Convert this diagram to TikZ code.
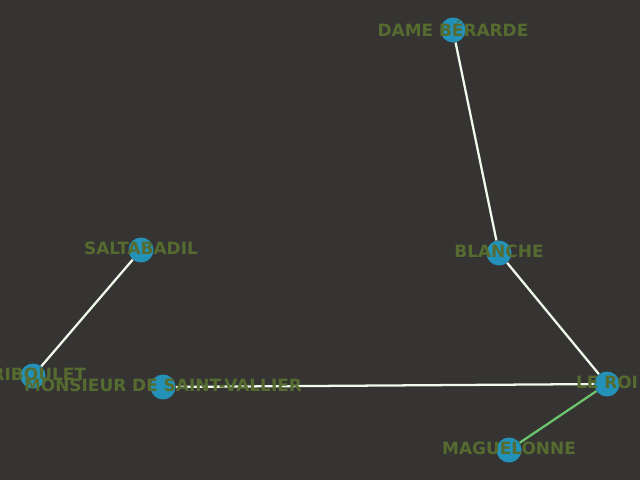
\documentclass[tikz,border=0pt]{standalone}
\usepackage{fontspec}
\setmainfont{DejaVu Sans}
\definecolor{bg}{HTML}{353433}
\definecolor{nodefill}{HTML}{2492B8}
\definecolor{lbl}{HTML}{556B2F}
\definecolor{edgew}{HTML}{F0FAEA}
\definecolor{edgeg}{HTML}{6CC46C}
\begin{document}
\begin{tikzpicture}[x=0.75pt,y=0.75pt,
  vert/.style={circle,fill=nodefill,minimum size=25*0.75pt,inner sep=0pt},
  lab/.style={text=lbl,font=\fontsize{12.7pt}{14pt}\selectfont\bfseries,inner sep=0pt,yshift=1.2pt},
  wedge/.style={draw=edgew,line width=1.7pt},
  gedge/.style={draw=edgeg,line width=1.7pt}]
\fill[bg] (0,0) rectangle (640,480);
\useasboundingbox (0,0) rectangle (640,480);
\node[vert] (dame) at (453,450) {};
\node[vert] (blanche) at (499,227) {};
\node[vert] (roi) at (607,96) {};
\node[vert] (mag) at (509,30) {};
\node[vert] (msv) at (163,93) {};
\node[vert] (trib) at (33,104) {};
\node[vert] (salt) at (141,230) {};
\path[wedge] (dame) -- (blanche);
\path[wedge] (blanche) -- (roi);
\path[wedge] (roi) -- (msv);
\path[gedge] (roi) -- (mag);
\path[wedge] (salt) -- (trib);
\node[lab] (ldame) at (dame) {DAME BÉRARDE};
\node[lab] (lblanche) at (blanche) {BLANCHE};
\node[lab] (lroi) at (roi) {LE ROI};
\node[lab] (lmag) at (mag) {MAGUELONNE};
\node[lab] (ltrib) at (trib) {TRIBOULET};
\node[lab] (lmsv) at (msv) {MONSIEUR DE SAINT-VALLIER};
\node[lab] (lsalt) at (salt) {SALTABADIL};
\end{tikzpicture}
\end{document}
